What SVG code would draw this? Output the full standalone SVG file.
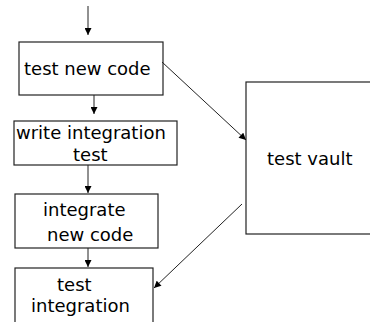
<svg xmlns="http://www.w3.org/2000/svg" width="370" height="322" viewBox="0 0 370 322">
<style>
.box{fill:#fff;stroke:#222;stroke-width:1.2}
.t{font-family:"DejaVu Sans",sans-serif;font-size:18px;fill:#000}
.c{stroke:#222;stroke-width:1;fill:none;marker-end:url(#ah)}
</style>
<defs>
<marker id="ah" viewBox="0 0 10 10" refX="10" refY="5" markerWidth="8" markerHeight="7" markerUnits="userSpaceOnUse" orient="auto">
<path d="M0,0 L10,5 L0,10 Z" fill="#000"/>
</marker>
</defs>
<rect width="370" height="322" fill="#fff"/>
<g id="n1">
<rect class="box" x="19" y="42" width="144" height="53"/>
<text class="t" x="24" y="75">test new code</text>
</g>
<g id="n2">
<rect class="box" x="14" y="121" width="163" height="44"/>
<text class="t" x="16" y="139">write integration</text>
<text class="t" x="73" y="161">test</text>
</g>
<g id="n3">
<rect class="box" x="15" y="194" width="143" height="54"/>
<text class="t" x="43" y="216">integrate</text>
<text class="t" x="47" y="241">new code</text>
</g>
<g id="n4">
<rect class="box" x="15" y="268" width="138" height="70"/>
<text class="t" x="57" y="291">test</text>
<text class="t" x="31" y="312">integration</text>
</g>
<g id="vault">
<rect class="box" x="246" y="82" width="140" height="152"/>
<text class="t" x="267" y="165">test vault</text>
</g>
<g id="connectors">
<line class="c" x1="88" y1="6" x2="88" y2="35"/>
<line class="c" x1="94" y1="95" x2="94" y2="114"/>
<line class="c" x1="88" y1="165" x2="88" y2="193"/>
<line class="c" x1="88" y1="248" x2="88" y2="267"/>
<line class="c" x1="162" y1="62" x2="246" y2="140"/>
<line class="c" x1="242" y1="204" x2="154" y2="288"/>
</g>
</svg>
